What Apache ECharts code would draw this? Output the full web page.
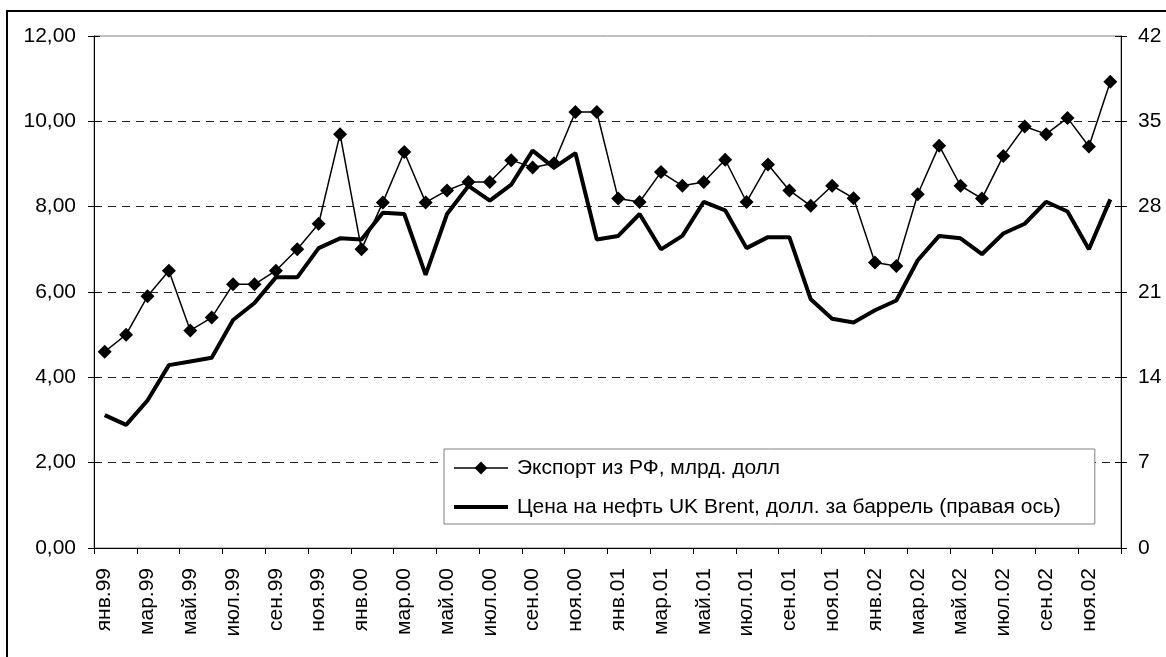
<!DOCTYPE html>
<html>
<head>
<meta charset="utf-8">
<script src="https://cdn.jsdelivr.net/npm/echarts@6/dist/echarts.min.js"></script>
<style>
html,body{margin:0;padding:0;background:#fff;}
#chart{width:1166px;height:657px;}
</style>
</head>
<body>
<div id="chart"></div>
<script>
const monthNames = ['янв','фев','мар','апр','май','июн','июл','авг','сен','окт','ноя','дек'];
const years = ['99','00','01','02'];
const categories = [];
years.forEach(y => monthNames.forEach(m => categories.push(m + '.' + y)));

const exportName = 'Экспорт из РФ, млрд. долл';
const oilName = 'Цена на нефть UK Brent, долл. за баррель (правая ось)';

const exportValues = [4.6,5.0,5.9,6.5,5.1,5.4,6.18,6.18,6.5,7.0,7.6,9.7,
  7.0,8.1,9.28,8.1,8.38,8.58,8.58,9.09,8.92,9.02,10.22,10.22,
  8.19,8.11,8.81,8.49,8.58,9.1,8.11,8.99,8.38,8.02,8.49,8.2,
  6.69,6.61,8.29,9.43,8.49,8.19,9.19,9.88,9.7,10.08,9.41,10.93];

const oilValues = [10.9,10.1,12.1,15.0,15.3,15.6,18.7,20.1,22.2,22.2,24.6,25.4,
  25.3,27.5,27.4,22.4,27.4,29.7,28.5,29.8,32.6,31.2,32.4,25.3,
  25.6,27.4,24.5,25.6,28.4,27.7,24.6,25.5,25.5,20.4,18.8,18.5,
  19.5,20.3,23.6,25.6,25.4,24.1,25.8,26.6,28.4,27.6,24.5,28.6];

const leftMin = 0, leftMax = 12, leftStep = 2;
const rightMin = 0, rightMax = 42, rightStep = 7;

const FONT = 'Liberation Sans';
const FS = 21;
const chart = echarts.init(document.getElementById('chart'), null, {renderer:'canvas'});
chart.setOption({
  animation: false,
  backgroundColor: '#fff',
  textStyle: {fontFamily: FONT, color: '#000'},
  graphic: [{
    type: 'rect', z: 100, silent: true,
    shape: {x: 7, y: 11, width: 1180, height: 700},
    style: {fill: 'none', stroke: '#000', lineWidth: 2}
  }],
  grid: {left: 94, right: 45, top: 36, bottom: 109, show: true, borderColor: '#808080', borderWidth: 1, containLabel: false},
  legend: {
    orient: 'vertical', left: 444, top: 449,
    padding: [8, 34, 6, 8],
    itemWidth: 54, itemHeight: 16, itemGap: 17,
    backgroundColor: '#fff', borderColor: '#808080', borderWidth: 1,
    textStyle: {fontFamily: FONT, fontSize: FS, color: '#000', lineHeight: 22, padding: [0,0,0,4]},
    data: [
      {name: exportName, lineStyle: {width: 1.5, color: '#000'}},
      {name: oilName, itemStyle: {opacity: 0}, lineStyle: {width: 4, color: '#000'}}
    ],
    z: 10
  },
  xAxis: {
    type: 'category', data: categories, boundaryGap: true,
    axisLine: {lineStyle: {color: '#000', width: 1}},
    axisTick: {show: true, interval: 1, length: 6, lineStyle: {color: '#000'}},
    axisLabel: {interval: 1, rotate: 90, margin: 20, fontFamily: FONT, fontSize: FS, color: '#000'},
    splitLine: {show: false}
  },
  yAxis: [{
    type: 'value', min: leftMin, max: leftMax, interval: leftStep, position: 'left',
    axisLine: {show: true, lineStyle: {color: '#000', width: 1}},
    axisTick: {show: true, length: 6, lineStyle: {color: '#000'}},
    axisLabel: {margin: 18, fontFamily: FONT, fontSize: FS, color: '#000',
      formatter: v => v.toFixed(2).replace('.', ',')},
    splitLine: {show: true, showMinLine: false, showMaxLine: false, lineStyle: {color: '#222', width: 1, type: [8, 6]}}
  }, {
    type: 'value', min: rightMin, max: rightMax, interval: rightStep, position: 'right',
    axisLine: {show: true, lineStyle: {color: '#000', width: 1}},
    axisTick: {show: true, length: 6, lineStyle: {color: '#000'}},
    axisLabel: {margin: 17, fontFamily: FONT, fontSize: FS, color: '#000'},
    splitLine: {show: false}
  }, {
    type: 'value', min: leftMin, max: leftMax, interval: leftStep, position: 'left',
    axisLine: {show: false},
    axisTick: {show: true, inside: true, length: 6, lineStyle: {color: '#000'}},
    axisLabel: {show: false}, splitLine: {show: false}
  }, {
    type: 'value', min: rightMin, max: rightMax, interval: rightStep, position: 'right',
    axisLine: {show: false},
    axisTick: {show: true, inside: true, length: 6, lineStyle: {color: '#000'}},
    axisLabel: {show: false}, splitLine: {show: false}
  }],
  series: [{
    name: exportName, type: 'line', yAxisIndex: 0, data: exportValues,
    symbol: 'diamond', symbolSize: 14,
    lineStyle: {color: '#000', width: 1.5},
    itemStyle: {color: '#000'},
    z: 3
  }, {
    name: oilName, type: 'line', yAxisIndex: 1, data: oilValues,
    symbol: 'none',
    lineStyle: {color: '#000', width: 4},
    itemStyle: {color: '#000'},
    z: 2
  }]
});
</script>
</body>
</html>
